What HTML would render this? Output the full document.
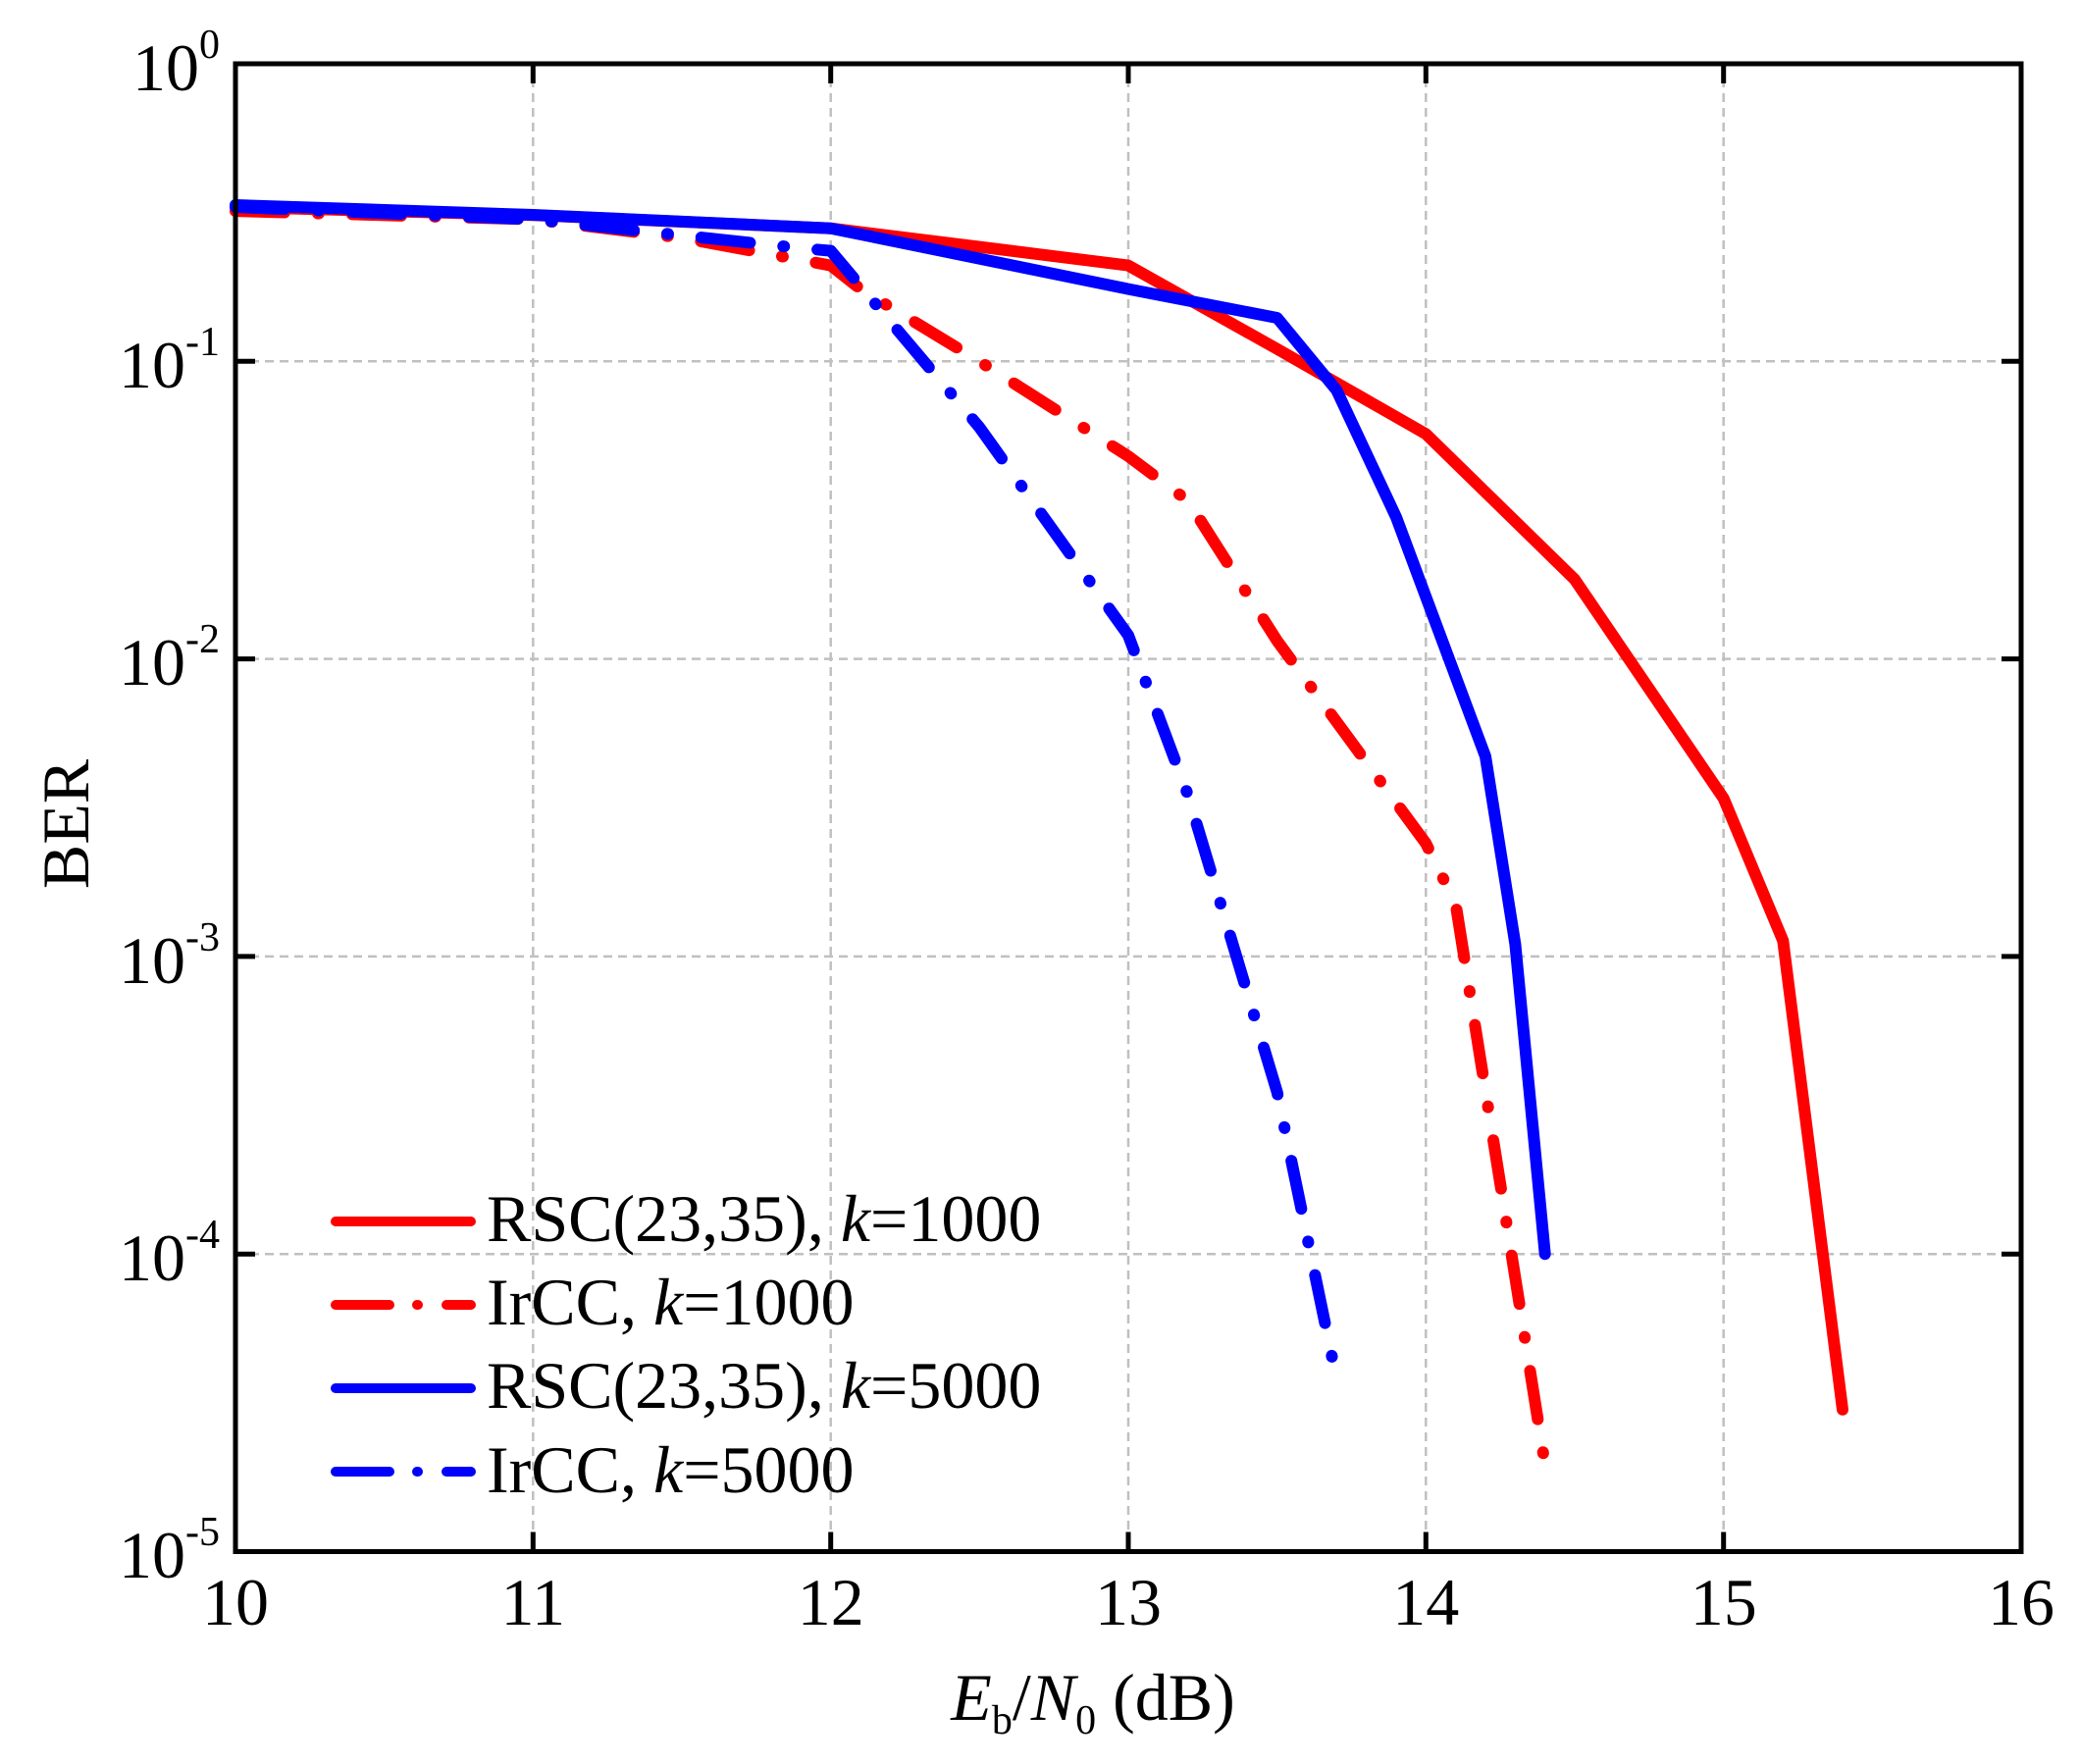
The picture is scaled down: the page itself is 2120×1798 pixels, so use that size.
<!DOCTYPE html>
<html><head><meta charset="utf-8"><style>html,body{margin:0;padding:0;background:#fff}</style></head>
<body>
<svg width="2120" height="1793" viewBox="0 0 2120 1793" xmlns="http://www.w3.org/2000/svg" font-family="'Liberation Serif', serif">
<rect width="2120" height="1793" fill="#fff"/>
<g stroke="#c0c0c0" stroke-width="2.5" stroke-dasharray="9 6">
<line x1="543.3" y1="65" x2="543.3" y2="1581.5"/>
<line x1="846.7" y1="65" x2="846.7" y2="1581.5"/>
<line x1="1150" y1="65" x2="1150" y2="1581.5"/>
<line x1="1453.3" y1="65" x2="1453.3" y2="1581.5"/>
<line x1="1756.7" y1="65" x2="1756.7" y2="1581.5"/>
<line x1="240" y1="368.3" x2="2060" y2="368.3"/>
<line x1="240" y1="671.6" x2="2060" y2="671.6"/>
<line x1="240" y1="974.9" x2="2060" y2="974.9"/>
<line x1="240" y1="1278.2" x2="2060" y2="1278.2"/>
</g>
<g fill="none" stroke-width="12" stroke-linecap="round" stroke-linejoin="round">
<polyline stroke="#ff0000" points="240,211 543.3,219.3 846.7,232.7 1150,270.6 1301.7,355.7 1453.3,442.3 1605,590.6 1756.7,813.7 1817.3,958.8 1878,1436.8"/>
<polyline stroke="#ff0000" stroke-dasharray="50 34 1 34" points="240,215.1 543.3,223.6 695,242.4 846.7,270.6 877,294.6 998.3,368.3 1150,465 1210.7,510.4 1301.7,653.2 1453.3,859.6 1483.7,921.5 1574.3,1490.2"/>
<polyline stroke="#0000ff" points="240,209 543.3,219 846.7,232.7 1150,294.6 1301.7,324 1362.3,397.7 1422.9,526.9 1514,771 1544.4,962.4 1574.7,1278.2"/>
<polyline stroke="#0000ff" stroke-dasharray="50 34 1 34" points="240,211 543.3,223.6 816.3,253 846.7,255.6 998.3,435.6 1150,647.6 1210.7,810 1301.7,1113.2 1362.3,1405.7"/>
</g>
<g stroke="#000" stroke-width="5" fill="none">
<rect x="240" y="65" width="1820" height="1516.5"/>
<path d="M543.3,1581.5v-20M846.7,1581.5v-20M1150,1581.5v-20M1453.3,1581.5v-20M1756.7,1581.5v-20M543.3,65v20M846.7,65v20M1150,65v20M1453.3,65v20M1756.7,65v20M240,368.3h20M240,671.6h20M240,974.9h20M240,1278.2h20M2060,368.3h-20M2060,671.6h-20M2060,974.9h-20M2060,1278.2h-20"/>
</g>
<g font-size="68" text-anchor="middle" fill="#000">
<text x="240" y="1656">10</text><text x="543.3" y="1656">11</text><text x="846.7" y="1656">12</text><text x="1150" y="1656">13</text><text x="1453.3" y="1656">14</text><text x="1756.7" y="1656">15</text><text x="2060" y="1656">16</text>
</g>
<g font-size="68" text-anchor="end" fill="#000">
<text x="224" y="92">10<tspan font-size="42" dy="-33">0</tspan></text>
<text x="224" y="395">10<tspan font-size="42" dy="-33">-1</tspan></text>
<text x="224" y="698">10<tspan font-size="42" dy="-33">-2</tspan></text>
<text x="224" y="1002">10<tspan font-size="42" dy="-33">-3</tspan></text>
<text x="224" y="1305">10<tspan font-size="42" dy="-33">-4</tspan></text>
<text x="224" y="1608">10<tspan font-size="42" dy="-33">-5</tspan></text>
</g>
<text x="1114" y="1753" font-size="68" text-anchor="middle"><tspan font-style="italic">E</tspan><tspan font-size="42" dy="14">b</tspan><tspan dy="-14">/</tspan><tspan font-style="italic">N</tspan><tspan font-size="42" dy="14">0</tspan><tspan dy="-14"> (dB)</tspan></text>
<text transform="translate(90,840) rotate(-90)" font-size="68" text-anchor="middle">BER</text>
<g stroke-width="10" stroke-linecap="round" fill="none">
<line x1="342" y1="1245" x2="480" y2="1245" stroke="#ff0000"/>
<path d="M342,1330h55M425,1330h1M455,1330h25" stroke="#ff0000"/>
<line x1="342" y1="1415" x2="480" y2="1415" stroke="#0000ff"/>
<path d="M342,1500h55M425,1500h1M455,1500h25" stroke="#0000ff"/>
</g>
<g font-size="68" fill="#000">
<text x="496" y="1265">RSC(23,35), <tspan font-style="italic">k</tspan>=1000</text>
<text x="496" y="1350">IrCC, <tspan font-style="italic">k</tspan>=1000</text>
<text x="496" y="1435">RSC(23,35), <tspan font-style="italic">k</tspan>=5000</text>
<text x="496" y="1521">IrCC, <tspan font-style="italic">k</tspan>=5000</text>
</g>
</svg>
</body></html>
